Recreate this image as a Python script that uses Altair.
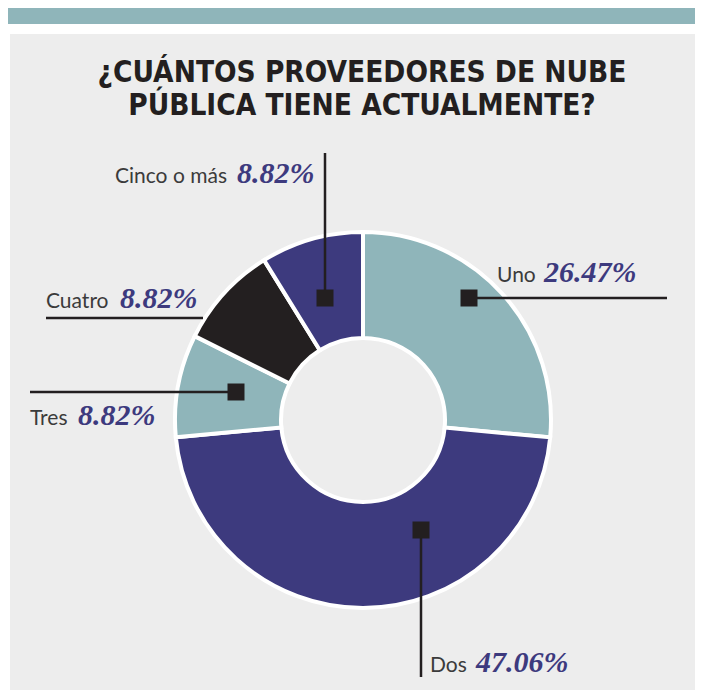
import altair as alt
import pandas as pd

# ---- data ----
categories = ["Uno", "Dos", "Tres", "Cuatro", "Cinco o más"]
values = [26.47, 47.06, 8.82, 8.82, 8.82]
slice_colors = ["#8fb5ba", "#3d3a7e", "#8fb5ba", "#231f20", "#3d3a7e"]
title_lines = ["¿CUÁNTOS PROVEEDORES DE NUBE", "PÚBLICA TIENE ACTUALMENTE?"]

# ---- layout (canvas pixel coordinates) ----
W, H = 687, 682
CX, CY = 355, 412
OFF = 8
# per category: name x, percent x, baseline y, leader (x1,y1,x2,y2), square (x,y) or None
layout = {
    "Uno":         dict(nx=497, px=544, by=282, line=(469, 298, 667, 298), sq=(469, 298)),
    "Dos":         dict(nx=430, px=476, by=672, line=(421, 530, 421, 677), sq=(421, 530)),
    "Tres":        dict(nx=30,  px=78,  by=425, line=(30, 392, 236, 392),  sq=(236, 392)),
    "Cuatro":      dict(nx=46,  px=120, by=308, line=(46, 318, 203, 318),  sq=None),
    "Cinco o más": dict(nx=115, px=237, by=183, line=(325, 153, 325, 298), sq=(325, 298)),
}

df = pd.DataFrame({"cat": categories, "val": values, "ord": range(len(categories))})

lab_rows, line_rows, sq_rows = [], [], []
for c, v in zip(categories, values):
    L = layout[c]
    lab_rows.append(dict(cat=c, pct=f"{v:.2f}%", nx=L["nx"] - OFF, px=L["px"] - OFF, by=L["by"] - OFF))
    x1, y1, x2, y2 = L["line"]
    line_rows.append(dict(x1=x1 - OFF, y1=y1 - OFF, x2=x2 - OFF, y2=y2 - OFF))
    if L["sq"]:
        sq_rows.append(dict(sx=L["sq"][0] - OFF, sy=L["sq"][1] - OFF))
labs = pd.DataFrame(lab_rows)
lines = pd.DataFrame(line_rows)
sqs = pd.DataFrame(sq_rows)

xs = alt.Scale(domain=[0, W], range=[0, W], nice=False, zero=False)
ys = alt.Scale(domain=[0, H], range=[0, H], nice=False, zero=False)

base_bg = alt.Chart(pd.DataFrame({"a": [0]}))
panel = base_bg.mark_rect(color="#ededed").encode(
    x=alt.value(2), x2=alt.value(W), y=alt.value(26), y2=alt.value(H))
topbar = base_bg.mark_rect(color="#8fb5ba").encode(
    x=alt.value(0), x2=alt.value(W), y=alt.value(-2), y2=alt.value(16))

title = alt.Chart(pd.DataFrame({"t": title_lines, "i": [0, 1]})).mark_text(
    font="DejaVu Sans Condensed, DejaVu Sans, sans-serif", fontWeight="bold",
    fontSize=29.5, color="#231f20", align="center", baseline="alphabetic").encode(
    x=alt.value(354), y=alt.Y("i:Q", scale=alt.Scale(domain=[0, 1], range=[74, 107]), axis=None),
    text="t:N")

arcs = alt.Chart(df).mark_arc(outerRadius=188, innerRadius=82, stroke="white", strokeWidth=4).encode(
    theta=alt.Theta("val:Q", stack=True),
    order=alt.Order("ord:Q"),
    color=alt.Color("cat:N", scale=alt.Scale(domain=categories, range=slice_colors), legend=None),
    x=alt.value(CX), y=alt.value(CY))

rules = alt.Chart(lines).mark_rule(color="#231f20", strokeWidth=2.5).encode(
    x=alt.X("x1:Q", scale=xs, axis=None), x2="x2:Q",
    y=alt.Y("y1:Q", scale=ys, axis=None), y2="y2:Q")

squares = alt.Chart(sqs).mark_square(size=289, color="#231f20", opacity=1).encode(
    x=alt.X("sx:Q", scale=xs, axis=None), y=alt.Y("sy:Q", scale=ys, axis=None))

names = alt.Chart(labs).mark_text(font="Lato", fontSize=21, color="#3b3b3b",
                                  align="left", baseline="alphabetic").encode(
    x=alt.X("nx:Q", scale=xs, axis=None), y=alt.Y("by:Q", scale=ys, axis=None), text="cat:N")

pcts = alt.Chart(labs).mark_text(font="Liberation Serif", fontSize=30, fontWeight="bold",
                                 fontStyle="italic", color="#3d3a7e",
                                 align="left", baseline="alphabetic").encode(
    x=alt.X("px:Q", scale=xs, axis=None), y=alt.Y("by:Q", scale=ys, axis=None), text="pct:N")

chart = alt.layer(panel, topbar, title, arcs, rules, squares, names, pcts).resolve_scale(
    y="independent").properties(
    width=W, height=H, padding=0, autosize="none", background="white"
).configure_view(stroke=None)

chart.save("out.html", embed_options={"renderer": "svg", "actions": False})
